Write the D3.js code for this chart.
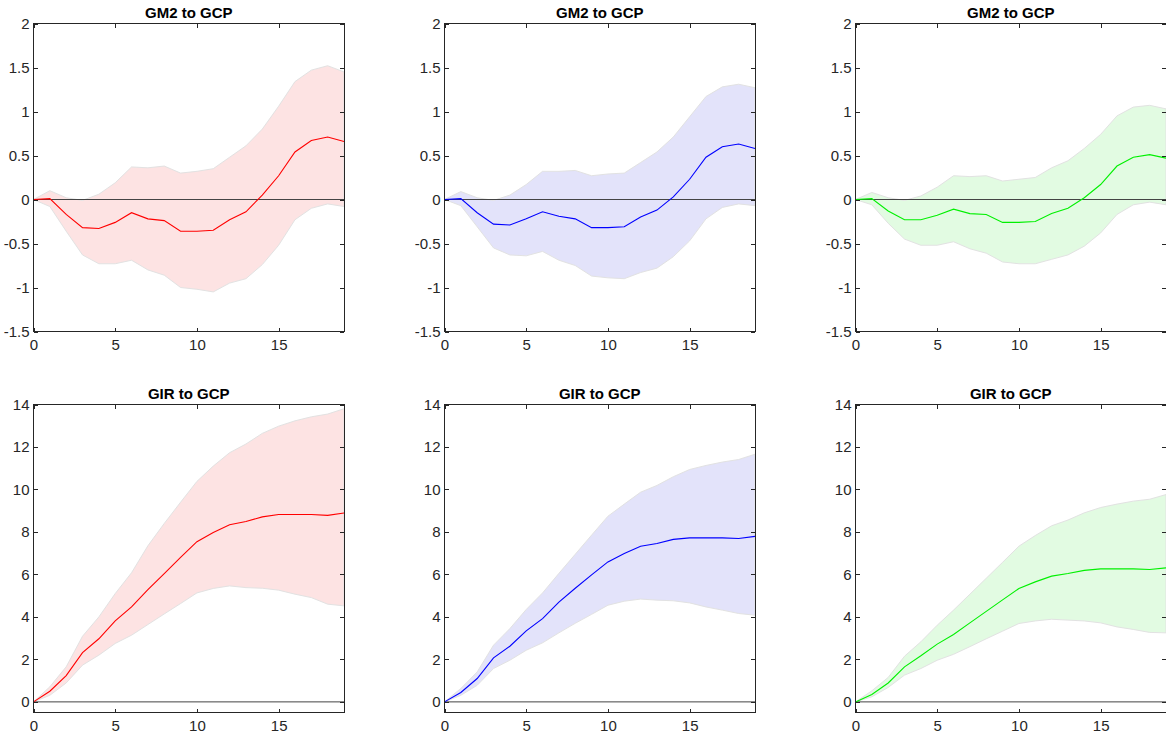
<!DOCTYPE html>
<meta charset="utf-8">
<script src="https://d3js.org/d3.v7.min.js"></script>
<style type="text/css">
    body {
        margin: 0;
        padding: 0;
        background: #fff;
    }

    svg {
        display: block;
        background-color: #FFF;
    }

    .axis path {
        display: none;
    }

    .axis line {
        stroke: #262626;
        stroke-width: 1;
        shape-rendering: crispEdges;
    }

    .axis text {
        fill: #262626;
        font-family: "Liberation Sans Narrow", "Liberation Sans", Arial, sans-serif;
        font-size: 15px;
    }

    .box {
        fill: none;
        stroke: #262626;
        stroke-width: 1;
        shape-rendering: crispEdges;
    }

    .zero {
        stroke: #444;
        stroke-width: 1;
    }

    .band {
        stroke: #e2e2e2;
        stroke-width: 1;
    }

    .mid {
        fill: none;
        stroke-width: 1.1;
    }

    .title {
        font-family: "Liberation Sans Narrow", "Liberation Sans", Arial, sans-serif;
        font-weight: bold;
        font-size: 15px;
        fill: #000;
        text-anchor: middle;
    }
</style>

<body>
</body>

<script>

// horizon
var steps = [0, 1, 2, 3, 4, 5, 6, 7, 8, 9, 10, 11, 12, 13, 14, 15, 16, 17, 18, 19];

// GM2 to GCP
var m2RedMid = [0, 0.01, -0.17, -0.32, -0.33, -0.26, -0.15, -0.22, -0.24, -0.36, -0.36, -0.35, -0.23, -0.14, 0.05, 0.27, 0.54, 0.67, 0.71, 0.66];
var m2RedHi  = [0, 0.10, 0.02, -0.01, 0.06, 0.19, 0.37, 0.36, 0.38, 0.30, 0.32, 0.35, 0.48, 0.61, 0.80, 1.06, 1.34, 1.47, 1.52, 1.45];
var m2RedLo  = [0, -0.08, -0.36, -0.63, -0.73, -0.73, -0.69, -0.80, -0.86, -1.00, -1.02, -1.05, -0.95, -0.90, -0.74, -0.52, -0.23, -0.10, -0.05, -0.08];

var m2BlueMid = [0, 0.01, -0.15, -0.28, -0.29, -0.22, -0.14, -0.19, -0.22, -0.32, -0.32, -0.31, -0.20, -0.12, 0.03, 0.23, 0.48, 0.60, 0.63, 0.58];
var m2BlueHi  = [0, 0.09, 0.02, -0.01, 0.05, 0.17, 0.32, 0.32, 0.33, 0.27, 0.29, 0.30, 0.42, 0.54, 0.71, 0.94, 1.17, 1.28, 1.31, 1.27];
var m2BlueLo  = [0, -0.07, -0.31, -0.55, -0.63, -0.64, -0.59, -0.69, -0.75, -0.87, -0.89, -0.90, -0.83, -0.78, -0.65, -0.47, -0.22, -0.09, -0.05, -0.07];

var m2GreenMid = [0, 0.01, -0.13, -0.23, -0.23, -0.18, -0.11, -0.16, -0.17, -0.26, -0.26, -0.25, -0.16, -0.10, 0.02, 0.17, 0.38, 0.48, 0.51, 0.47];
var m2GreenHi  = [0, 0.08, 0.02, -0.01, 0.04, 0.14, 0.27, 0.26, 0.27, 0.21, 0.23, 0.25, 0.36, 0.44, 0.58, 0.74, 0.95, 1.05, 1.07, 1.03];
var m2GreenLo  = [0, -0.06, -0.27, -0.45, -0.52, -0.52, -0.48, -0.56, -0.61, -0.71, -0.73, -0.73, -0.68, -0.63, -0.53, -0.38, -0.17, -0.06, -0.03, -0.06];

// GIR to GCP
var irRedMid = [0, 0.50, 1.24, 2.32, 2.97, 3.81, 4.47, 5.28, 6.04, 6.80, 7.54, 7.97, 8.34, 8.49, 8.71, 8.82, 8.82, 8.82, 8.78, 8.89];
var irRedHi  = [0, 0.71, 1.65, 3.09, 4.00, 5.10, 6.08, 7.35, 8.40, 9.40, 10.38, 11.10, 11.73, 12.14, 12.64, 12.98, 13.23, 13.42, 13.55, 13.80];
var irRedLo  = [0, 0.31, 0.89, 1.73, 2.20, 2.75, 3.14, 3.64, 4.14, 4.63, 5.13, 5.34, 5.46, 5.38, 5.35, 5.26, 5.07, 4.91, 4.60, 4.52];

var irBlueMid = [0, 0.44, 1.10, 2.07, 2.62, 3.34, 3.92, 4.70, 5.35, 5.98, 6.59, 6.99, 7.33, 7.46, 7.65, 7.72, 7.72, 7.72, 7.69, 7.79];
var irBlueHi  = [0, 0.63, 1.41, 2.67, 3.45, 4.35, 5.13, 6.05, 6.95, 7.85, 8.74, 9.31, 9.87, 10.19, 10.60, 10.94, 11.13, 11.29, 11.41, 11.66];
var irBlueLo  = [0, 0.31, 0.78, 1.57, 1.96, 2.43, 2.78, 3.25, 3.70, 4.12, 4.55, 4.74, 4.84, 4.79, 4.76, 4.66, 4.47, 4.32, 4.16, 4.08];

var irGreenMid = [0, 0.35, 0.89, 1.65, 2.17, 2.72, 3.17, 3.72, 4.26, 4.80, 5.34, 5.65, 5.92, 6.04, 6.19, 6.26, 6.26, 6.26, 6.23, 6.31];
var irGreenHi  = [0, 0.52, 1.15, 2.15, 2.83, 3.61, 4.32, 5.07, 5.82, 6.57, 7.33, 7.83, 8.29, 8.56, 8.90, 9.15, 9.31, 9.45, 9.54, 9.76];
var irGreenLo  = [0, 0.24, 0.68, 1.26, 1.57, 1.96, 2.24, 2.60, 2.97, 3.33, 3.69, 3.81, 3.89, 3.85, 3.81, 3.72, 3.53, 3.41, 3.27, 3.25];

var xTicks = [0, 5, 10, 15];
var m2Ticks = [-1.5, -1, -0.5, 0, 0.5, 1, 1.5, 2];
var irTicks = [0, 2, 4, 6, 8, 10, 12, 14];

var titles = ["GM2 to GCP", "GIR to GCP"];

width = 1166;
height = 736;

var panelW = 310.5,
    panelH = 308;
var lefts = [33.5, 444.5, 855.5];
var tops = [23.5, 404.5];

var colors = [
    {line: "#ff0000", fill: "#fde3e3"},
    {line: "#0000ff", fill: "#e3e3fa"},
    {line: "#00f000", fill: "#e2fbe2"}
];

var panels = [
    {row: 0, col: 0, mid: m2RedMid, hi: m2RedHi, lo: m2RedLo},
    {row: 0, col: 1, mid: m2BlueMid, hi: m2BlueHi, lo: m2BlueLo},
    {row: 0, col: 2, mid: m2GreenMid, hi: m2GreenHi, lo: m2GreenLo},
    {row: 1, col: 0, mid: irRedMid, hi: irRedHi, lo: irRedLo},
    {row: 1, col: 1, mid: irBlueMid, hi: irBlueHi, lo: irBlueLo},
    {row: 1, col: 2, mid: irGreenMid, hi: irGreenHi, lo: irGreenLo}
];

var svg = d3.select("body")
    .append("svg")
    .attr("width", width)
    .attr("height", height);

var fmt = function (d) { return String(d); };

panels.forEach(function (p) {
    var g = svg.append("g")
        .attr("transform", "translate(" + lefts[p.col] + "," + tops[p.row] + ")");

    var x = d3.scaleLinear().domain([0, 19]).range([0, panelW]);
    var y = d3.scaleLinear()
        .domain(p.row == 0 ? [-1.5, 2] : [-0.5, 14])
        .range([panelH, 0]);
    var yTicks = p.row == 0 ? m2Ticks : irTicks;

    var rows = steps.map(function (s, i) {
        return {x: s, mid: p.mid[i], hi: p.hi[i], lo: p.lo[i]};
    });

    var band = d3.area()
        .x(function (d) { return x(d.x); })
        .y0(function (d) { return y(d.lo); })
        .y1(function (d) { return y(d.hi); });

    var valueline = d3.line()
        .x(function (d) { return x(d.x); })
        .y(function (d) { return y(d.mid); });

    g.append("path")
        .attr("class", "band")
        .attr("fill", colors[p.col].fill)
        .attr("d", band(rows));

    g.append("line")
        .attr("class", "zero")
        .attr("x1", 0)
        .attr("x2", panelW)
        .attr("y1", y(0))
        .attr("y2", y(0));

    g.append("path")
        .attr("class", "mid")
        .attr("stroke", colors[p.col].line)
        .attr("d", valueline(rows));

    // ticks point inward on all four sides
    g.append("g")
        .attr("class", "axis")
        .call(d3.axisLeft(y).tickValues(yTicks).tickFormat(fmt)
            .tickSizeInner(-4).tickSizeOuter(0).tickPadding(4));

    g.append("g")
        .attr("class", "axis")
        .attr("transform", "translate(" + panelW + ",0)")
        .call(d3.axisRight(y).tickValues(yTicks).tickFormat("")
            .tickSizeInner(-4).tickSizeOuter(0));

    g.append("g")
        .attr("class", "axis")
        .attr("transform", "translate(0," + panelH + ")")
        .call(d3.axisBottom(x).tickValues(xTicks).tickFormat(fmt)
            .tickSizeInner(-4).tickSizeOuter(0).tickPadding(8));

    g.append("g")
        .attr("class", "axis")
        .call(d3.axisTop(x).tickValues(xTicks).tickFormat("")
            .tickSizeInner(-4).tickSizeOuter(0));

    g.append("rect")
        .attr("class", "box")
        .attr("width", panelW)
        .attr("height", panelH);

    g.append("text")
        .attr("class", "title")
        .attr("x", panelW / 2)
        .attr("y", -6)
        .text(titles[p.row]);
});

</script>
